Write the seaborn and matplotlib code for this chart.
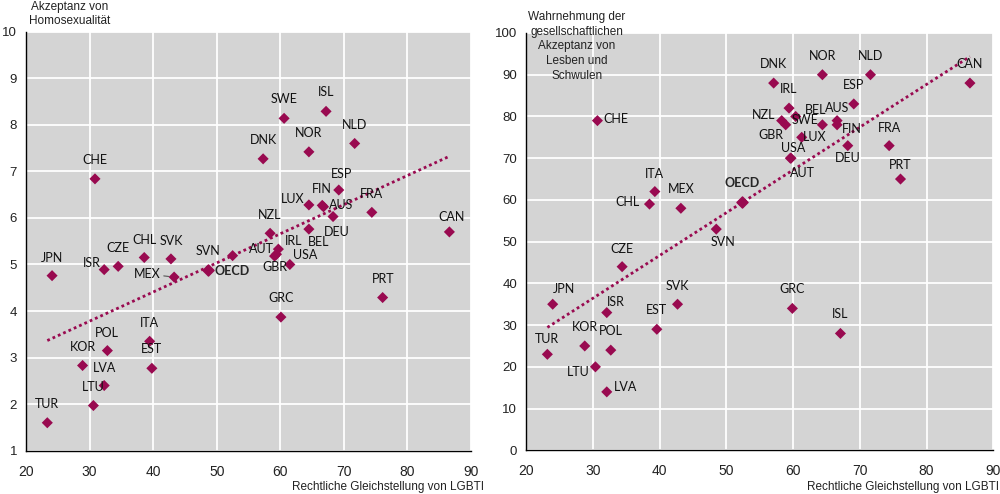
import matplotlib
matplotlib.use("Agg")
import matplotlib.pyplot as plt
import seaborn as sns
import pandas as pd

# data
countries = ["CHE", "DNK", "SWE", "ISL", "NOR", "NLD", "ESP", "FIN", "LUX", "AUS",
             "FRA", "CAN", "NZL", "BEL", "DEU", "AUT", "IRL", "GBR", "USA", "SVN",
             "MEX", "SVK", "CHL", "CZE", "ISR", "JPN", "GRC", "PRT", "ITA", "EST",
             "POL", "KOR", "LVA", "LTU", "TUR"]

legal_left = [30.85, 57.3, 60.6, 67.2, 64.5, 71.7, 69.2, 66.6, 64.5, 66.8,
              74.4, 86.6, 58.4, 64.5, 68.3, 59.4, 59.7, 59.1, 61.5, 52.5,
              43.3, 42.8, 38.6, 34.5, 32.3, 24.1, 60.1, 76.1, 39.45, 39.8,
              32.8, 28.9, 32.3, 30.6, 23.35]
acceptance = [6.84, 7.27, 8.14, 8.29, 7.42, 7.6, 6.6, 6.27, 6.28, 6.24,
              6.12, 5.7, 5.67, 5.76, 6.03, 5.22, 5.33, 5.18, 5.0, 5.19,
              4.73, 5.12, 5.15, 4.96, 4.89, 4.76, 3.87, 4.29, 3.35, 2.77,
              3.15, 2.83, 2.4, 1.97, 1.6]

legal_right = [30.7, 57.1, 60.4, 67.1, 64.4, 71.6, 69.1, 66.6, 61.3, 66.6,
               74.4, 86.5, 58.3, 64.4, 68.2, 59.7, 59.4, 58.9, 59.6, 48.5,
               43.2, 42.7, 38.5, 34.4, 32.1, 24.0, 59.9, 76.1, 39.3, 39.6,
               32.7, 28.8, 32.1, 30.4, 23.2]
perception = [79, 88, 80, 28, 90, 90, 83, 78, 75, 79,
              73, 88, 79, 78, 73, 70, 82, 78, 70, 53,
              58, 35, 59, 44, 33, 35, 34, 65, 62, 29,
              24, 25, 14, 20, 23]

oecd_left = [48.7, 4.89]
oecd_right = [52.4, 59.5]

# label offsets in pixels (dx, dy), dy up
lab_left = {"CHE": (0, 19), "DNK": (0, 19), "SWE": (0, 19), "ISL": (0, 19), "NOR": (0, 19),
            "NLD": (0, 18), "ESP": (3, 16), "FIN": (0, 16), "LUX": (-16, 6), "AUS": (18, 2),
            "FRA": (0, 18), "CAN": (2, 15), "NZL": (0, 18), "BEL": (10, -13), "DEU": (4, -15),
            "AUT": (-15, 5), "IRL": (15, 8), "GBR": (0, -11), "USA": (15, 9), "SVN": (-25, 5),
            "MEX": (-27, 3), "SVK": (0, 18), "CHL": (0, 18), "CZE": (0, 18), "ISR": (-12, 7),
            "JPN": (0, 18), "GRC": (0, 19), "PRT": (0, 19), "ITA": (0, 18), "EST": (0, 19),
            "POL": (0, 18), "KOR": (0, 18), "LVA": (0, 18), "LTU": (0, 19), "TUR": (0, 19)}
lab_right = {"CHE": (18, 2), "DNK": (0, 19), "SWE": (9, -4), "ISL": (0, 19), "NOR": (0, 19),
             "NLD": (0, 19), "ESP": (0, 19), "FIN": (15, -4), "LUX": (13, 0), "AUS": (0, 13),
             "FRA": (0, 18), "CAN": (0, 19), "NZL": (-18, 6), "BEL": (-7, 15), "DEU": (0, -12),
             "AUT": (11, -15), "IRL": (0, 19), "GBR": (-15, -10), "USA": (3, 10), "SVN": (7, -13),
             "MEX": (0, 19), "SVK": (0, 18), "CHL": (-22, 2), "CZE": (0, 18), "ISR": (9, 11),
             "JPN": (11, 15), "GRC": (0, 19), "PRT": (0, 14), "ITA": (0, 18), "EST": (0, 19),
             "POL": (0, 19), "KOR": (0, 19), "LVA": (19, 5), "LTU": (-17, -5), "TUR": (0, 15)}

df = pd.DataFrame({"country": countries, "legal_l": legal_left, "acc": acceptance,
                   "legal_r": legal_right, "perc": perception})

sns.set_style("darkgrid", {"axes.facecolor": "#d4d4d4", "grid.color": "white",
                           "axes.edgecolor": "black"})
tick_font = ["Liberation Sans", "DejaVu Sans"]
label_font = ["Lato", "DejaVu Sans"]
plt.rcParams["font.family"] = tick_font

magenta = "#990a50"

fig = plt.figure(figsize=(10, 4.94), dpi=100)
ax1 = fig.add_axes([0.026, 0.0877, 0.445, 0.848])
ax2 = fig.add_axes([0.526, 0.0885, 0.4673, 0.8447])


def draw(ax, xcol, ycol, oecd, labels, ylim, yticks):
    # dotted linear trend over the country points
    sns.regplot(data=df, x=xcol, y=ycol, ax=ax, scatter=False, ci=None, color=magenta,
                line_kws=dict(ls=(0, (1, 1.1)), lw=2))
    sns.scatterplot(data=df, x=xcol, y=ycol, ax=ax, marker="D", s=32, color=magenta,
                    edgecolor="none", zorder=4)
    ax.scatter([oecd[0]], [oecd[1]], marker="D", s=32, color=magenta, zorder=4)
    for c, xv, yv in zip(df["country"], df[xcol], df[ycol]):
        dx, dy = labels[c]
        arrow = None
        if c == "MEX" and ax is ax1:
            arrow = dict(arrowstyle="-", color="#555555", lw=0.8, shrinkA=12, shrinkB=4)
        ax.annotate(c, (xv, yv), xytext=(dx, dy), textcoords="offset pixels",
                    ha="center", va="center", fontsize=9, family=label_font,
                    color="#111111", arrowprops=arrow, zorder=5)
    ax.set_xlim(20, 90)
    ax.set_ylim(*ylim)
    ax.set_xticks(range(20, 91, 10))
    ax.set_yticks(yticks)
    ax.set_xlabel("")
    ax.set_ylabel("")
    for s in ["top", "right"]:
        ax.spines[s].set_visible(False)
    for s in ["left", "bottom"]:
        ax.spines[s].set_color("black")
        ax.spines[s].set_linewidth(1)
    ax.grid(True, color="white", lw=1.3)
    ax.tick_params(axis="y", direction="out", length=3, pad=3.5, labelsize=9.5, colors="black")
    ax.tick_params(axis="x", direction="in", length=4, pad=10, labelsize=10, colors="black")
    ax.tick_params(axis="both", labelcolor="#222222")


draw(ax1, "legal_l", "acc", oecd_left, lab_left, (1, 10), range(1, 11))
draw(ax2, "legal_r", "perc", oecd_right, lab_right, (0, 100), range(0, 101, 10))

ax1.annotate("OECD", tuple(oecd_left), xytext=(24, -1), textcoords="offset pixels",
             ha="center", va="center", fontsize=9, family=label_font, weight="bold")
ax2.annotate("OECD", tuple(oecd_right), xytext=(0, 19), textcoords="offset pixels",
             ha="center", va="center", fontsize=9, family=label_font, weight="bold")

fig.text(0.07, 0.972, "Akzeptanz von\nHomosexualität", ha="center", va="center",
         fontsize=8.5, linespacing=1.25, color="#222222")
fig.text(0.5767, 0.906, "Wahrnehmung der\ngesellschaftlichen\nAkzeptanz von\nLesben und\nSchwulen",
         ha="center", va="center", fontsize=8.5, linespacing=1.3, color="#222222")
fig.text(0.484, 0.015, "Rechtliche Gleichstellung von LGBTI", ha="right", va="center",
         fontsize=8.5, color="#222222")
fig.text(0.999, 0.015, "Rechtliche Gleichstellung von LGBTI", ha="right", va="center",
         fontsize=8.5, color="#222222")

fig.savefig("out.png", dpi=100)
